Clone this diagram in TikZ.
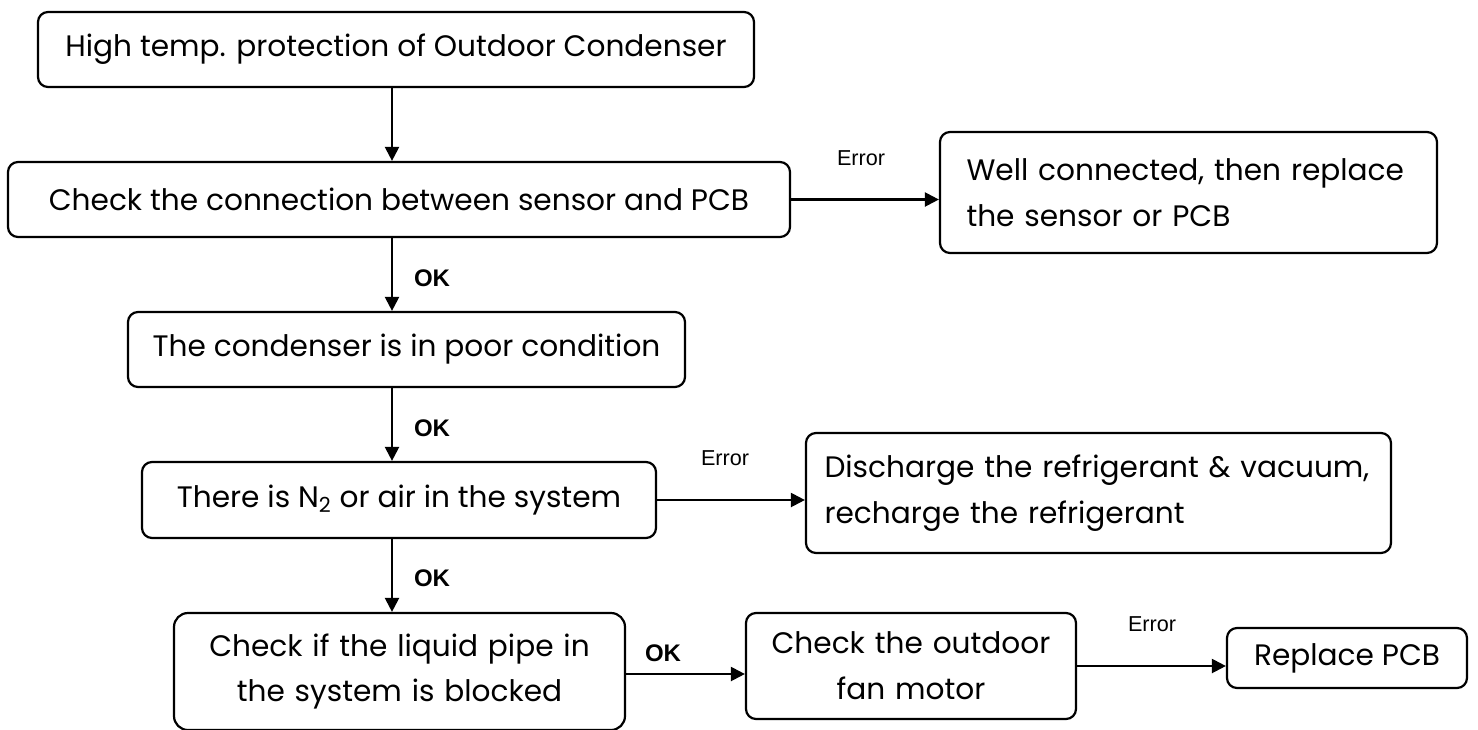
\documentclass[tikz,border=0pt]{standalone}
\usepackage{fontspec}
\setmainfont{Poppins}
\newfontfamily\labelfont{Liberation Sans}
\usetikzlibrary{arrows.meta}

\tikzset{
    stepbox/.style={draw, line width=1.1pt, rounded corners=5pt, inner sep=0pt,
        font=\fontsize{14.8}{23}\selectfont},
    flow/.style={line width=1.1pt, -{Triangle[length=7pt,width=7pt]}},
    oklabel/.style={font=\labelfont\bfseries\fontsize{12}{14}\selectfont},
    errlabel/.style={font=\labelfont\fontsize{10.8}{12}\selectfont}
}

\begin{document}
\begin{tikzpicture}[x=0.5pt, y=-0.5pt]
\useasboundingbox (0,0) rectangle (1478,729);

    \node[stepbox, minimum width=358pt, minimum height=37.5pt] (top) at (396,49.5)
        {High temp. protection of Outdoor Condenser};
    \node[stepbox, minimum width=391pt, minimum height=37.5pt] (check) at (399,199.5)
        {Check the connection between sensor and PCB};
    \node[stepbox, minimum width=248.5pt, minimum height=60.5pt, text width=222pt, align=left] (well) at (1188.5,192.5)
        {Well connected, then replace\\the sensor or PCB};
    \node[stepbox, minimum width=278.5pt, minimum height=37.5pt] (cond) at (406.5,349.5)
        {The condenser is in poor condition};
    \node[stepbox, minimum width=257pt, minimum height=38pt] (nitro) at (399,500)
        {There is N\textsubscript{2} or air in the system};
    \node[stepbox, minimum width=292.5pt, minimum height=60pt, text width=274pt, align=left] (disch) at (1098.5,493)
        {Discharge the refrigerant \& vacuum,\\recharge the refrigerant};
    \node[stepbox, rounded corners=7pt, minimum width=225.5pt, minimum height=58.5pt, text width=200pt, align=center] (pipe) at (399.5,671.5)
        {Check if the liquid pipe in\\the system is blocked};
    \node[stepbox, minimum width=165pt, minimum height=53pt, text width=150pt, align=center] (fan) at (911,666)
        {Check the outdoor\\fan motor};
    \node[stepbox, minimum width=120pt, minimum height=30pt] (pcb) at (1347,658)
        {Replace PCB};

    \coordinate (spine) at (392,0);

    \draw[flow] (top.south -| spine) -- (check.north -| spine);
    \draw[flow] (check.south -| spine) -- (cond.north -| spine);
    \draw[flow] (cond.south -| spine) -- (nitro.north -| spine);
    \draw[flow] (nitro.south -| spine) -- (pipe.north -| spine);
    \draw[flow] (check.east) -- (check.east -| well.west);
    \draw[flow] (nitro.east) -- (nitro.east -| disch.west);
    \draw[flow] ([yshift=-1.25pt]pipe.east) -- ([yshift=-1.25pt]pipe.east -| fan.west);
    \draw[flow] (fan.east) -- (fan.east -| pcb.west);

    \node[oklabel] (ok1) at (432,278) {OK};
    \node[oklabel] (ok2) at (432,428) {OK};
    \node[oklabel] (ok3) at (432,578) {OK};
    \node[oklabel] (ok4) at (663,653) {OK};
    \node[errlabel] (err1) at (861,158) {Error};
    \node[errlabel] (err2) at (725,458) {Error};
    \node[errlabel] (err3) at (1152,624) {Error};

\end{tikzpicture}
\end{document}
